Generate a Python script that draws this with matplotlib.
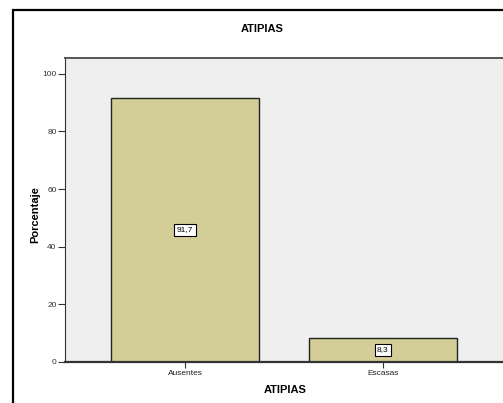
import matplotlib
matplotlib.use("Agg")
import matplotlib.pyplot as plt
from matplotlib.patches import Rectangle

categories = ["Ausentes", "Escasas"]
values = [91.7, 8.3]
value_labels = ["91,7", "8,3"]
y_ticks = [0, 20, 40, 60, 80, 100]

plt.rcParams["font.family"] = ["Liberation Sans", "DejaVu Sans"]

W, H = 503, 403
fig = plt.figure(figsize=(W / 100, H / 100), dpi=100)
fig.patch.set_facecolor("white")

# outer chart frame
fig.patches.append(Rectangle((13 / W, -0.1), 1.2, (H - 10) / H + 0.1,
                             transform=fig.transFigure, fill=False,
                             edgecolor="black", linewidth=1.6, zorder=0))

ax = fig.add_axes([65 / W, 41 / H, 440 / W, 304 / H])
ax.set_facecolor("#efefef")

x = list(range(len(categories)))
ax.bar(x, values, width=0.75, color="#d3ce97", edgecolor="#222222",
       linewidth=1.0, zorder=2)

for xi, v, lab in zip(x, values, value_labels):
    ax.text(xi, v / 2, lab, ha="center", va="center", fontsize=6,
            bbox=dict(boxstyle="square,pad=0.3", facecolor="white",
                      edgecolor="black", linewidth=0.8), zorder=3)

ax.set_xlim(-0.607, 1.617)
ax.set_ylim(0, 105.5)
ax.set_yticks(y_ticks)
ax.set_yticklabels([str(t) for t in y_ticks], fontsize=6, color="#333333")
ax.set_xticks(x)
ax.set_xticklabels(categories, fontsize=6, color="#222222")
ax.tick_params(axis="y", length=5, width=0.8, color="#333333", pad=1)
ax.tick_params(axis="x", length=4, width=0.8, color="#333333", pad=2)

ax.spines["left"].set_color("#333333")
ax.spines["left"].set_linewidth(0.8)
ax.spines["bottom"].set_color("#333333")
ax.spines["bottom"].set_linewidth(1.6)
ax.spines["top"].set_color("#555555")
ax.spines["top"].set_linewidth(1.4)
ax.spines["right"].set_visible(False)

fig.text(262 / W, 1 - 29 / H, "ATIPIAS", ha="center", va="center",
         fontsize=8, fontweight="bold")
fig.text(285 / W, 1 - 390 / H, "ATIPIAS", ha="center", va="center",
         fontsize=8, fontweight="bold")
fig.text(35 / W, 1 - 215 / H, "Porcentaje", ha="center", va="center",
         rotation=90, fontsize=8, fontweight="bold")

fig.savefig("out.png", dpi=100)
